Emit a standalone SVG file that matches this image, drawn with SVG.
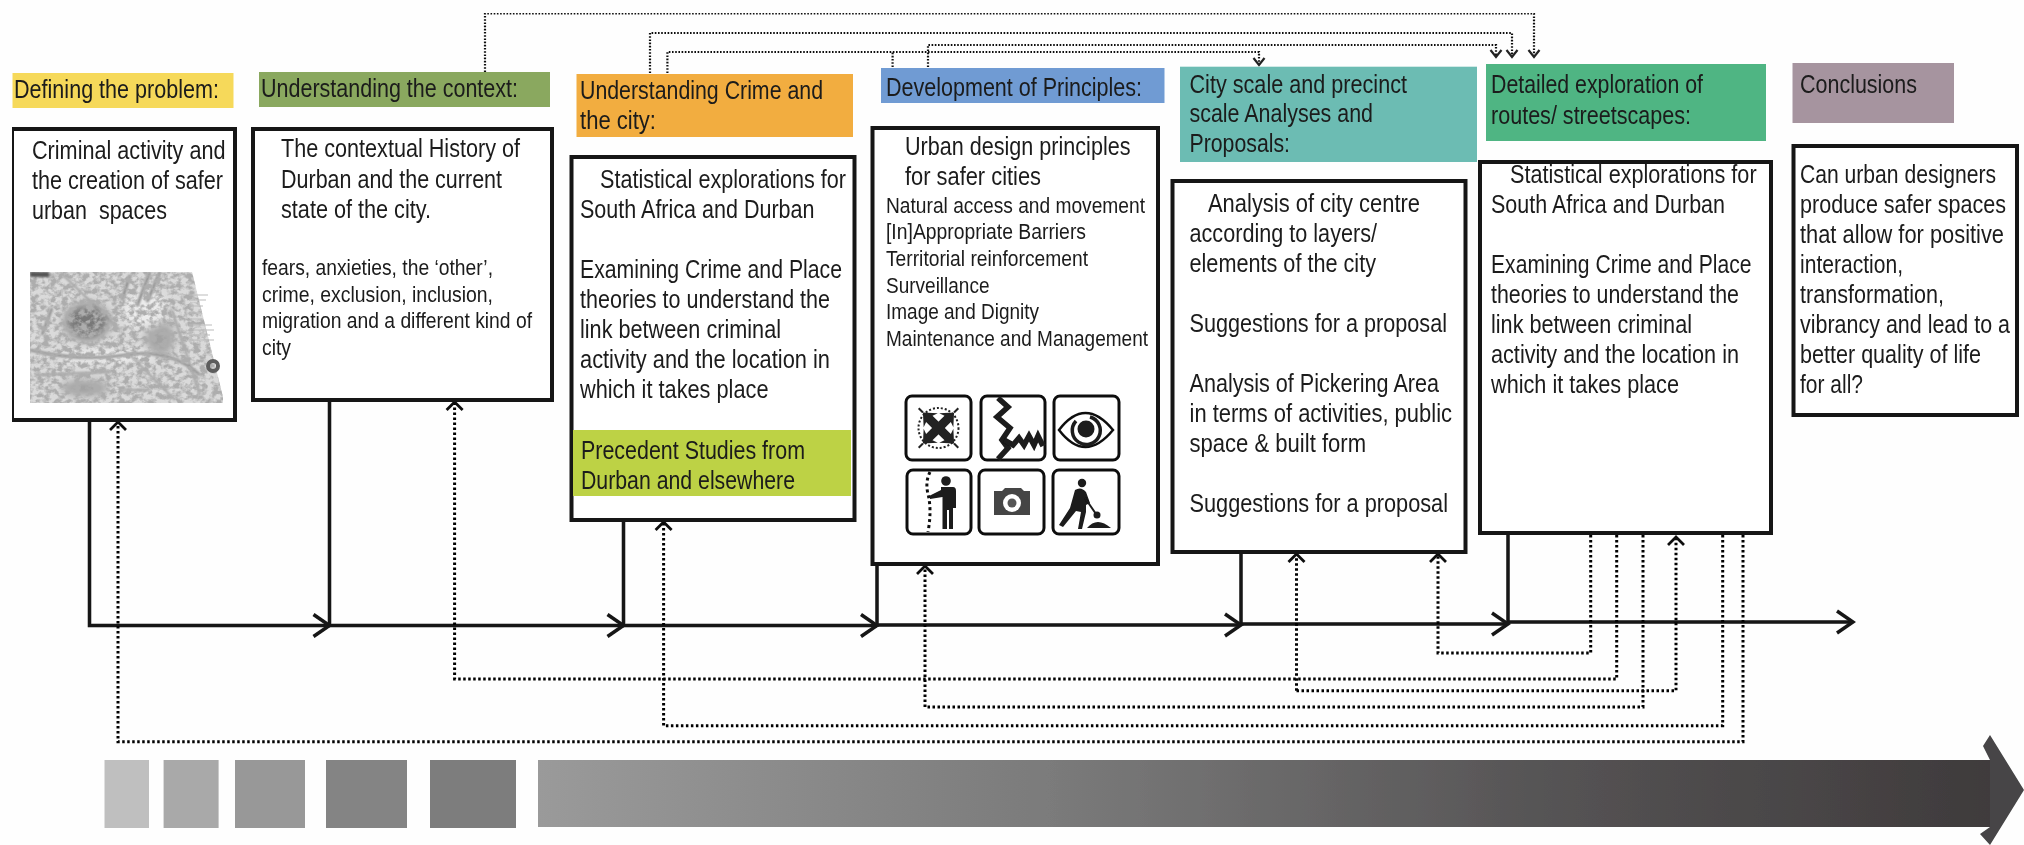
<svg xmlns="http://www.w3.org/2000/svg" width="2024" height="845" viewBox="0 0 2024 845">
<style>
text{font-family:"Liberation Sans",Arial,sans-serif;fill:#1a1a1a}
.h{font-size:26px}.t{font-size:26px}.s{font-size:22px}
.box{fill:#fff;stroke:#141414;stroke-width:4}
.main{fill:none;stroke:#141414;stroke-width:3.5;marker-end:url(#chev)}
.dot{fill:none;stroke:#000;stroke-width:3;stroke-dasharray:2.5 2.5;marker-end:url(#up)}
.top{fill:none;stroke:#111;stroke-width:2.2;stroke-dasharray:1.6 1.6;marker-end:url(#dn)}
.topn{fill:none;stroke:#111;stroke-width:2.2;stroke-dasharray:1.6 1.6}
.ic{fill:#fff;stroke:#111;stroke-width:3}
.k{fill:#1a1a1a}
.l{fill:none;stroke:#1a1a1a}
</style>
<defs>
<marker id="chev" markerUnits="userSpaceOnUse" viewBox="-18 -13 21 26" refX="0" refY="0" markerWidth="21" markerHeight="26" orient="auto"><path d="M-16-11L0 0L-16 11" fill="none" stroke="#141414" stroke-width="3.5"/></marker>
<marker id="up" markerUnits="userSpaceOnUse" viewBox="-10 -10 12 20" refX="0" refY="0" markerWidth="12" markerHeight="20" orient="auto"><path d="M-8-8L0 0L-8 8" fill="none" stroke="#111" stroke-width="2.8"/></marker>
<marker id="dn" markerUnits="userSpaceOnUse" viewBox="-9 -8 11 16" refX="0" refY="0" markerWidth="11" markerHeight="16" orient="auto"><path d="M-7-5.5L0 0L-7 5.5" fill="none" stroke="#222" stroke-width="2.2"/></marker>
<linearGradient id="bar" x1="538" x2="1990" y1="0" y2="0" gradientUnits="userSpaceOnUse"><stop offset="0" stop-color="#9a9a9a"/><stop offset=".35" stop-color="#7b7b7b"/><stop offset=".7" stop-color="#555354"/><stop offset="1" stop-color="#3f3b3c"/></linearGradient>
<filter id="tex" x="0" y="0" width="100%" height="100%"><feTurbulence type="fractalNoise" baseFrequency=".16 .19" numOctaves="3" seed="11"/><feColorMatrix values="0 0 0 0 .42  0 0 0 0 .42  0 0 0 0 .42  3.6 0 0 0 -1.35"/><feComposite in2="SourceAlpha" operator="in"/><feGaussianBlur stdDeviation=".5"/></filter>
<filter id="soft" x="-30%" y="-30%" width="160%" height="160%"><feGaussianBlur stdDeviation="5"/></filter>
<filter id="soft1" x="-30%" y="-30%" width="160%" height="160%"><feGaussianBlur stdDeviation="1"/></filter>
<filter id="scan" x="0" y="0" width="100%" height="100%"><feGaussianBlur stdDeviation=".45"/></filter>
<clipPath id="mapclip"><path d="M30 272H192L223 397V403H30Z"/></clipPath>
<path id="ar" d="M0-4.500H13L11-10L22 0L11 10L13 4.500H0Z M22-1H28V1H22Z" fill="#222"/>
</defs>
<rect width="2024" height="845" fill="#fefefe"/>
<g filter="url(#scan)">

<g id="connectors">
<g id="timeline">
<path class="main" d="M89.500 420V625.500H329.500"/>
<path class="main" d="M329.500 400V625.500H623.500"/>
<path class="main" d="M623.500 520V625.500H877"/>
<path class="main" d="M877 564V625H1241"/>
<path class="main" d="M1241 552V624H1508"/>
<path class="main" d="M1508 533V622H1853"/>
</g>
<g id="feedback">
<path class="dot" d="M1743 535V741.700H118V422"/>
<path class="dot" d="M1722.700 535V725.700H663.600V522"/>
<path class="dot" d="M1643 535V707H925V566"/>
<path class="dot" d="M1616.700 535V679H454.600V402"/>
<path class="dot" d="M1296.500 690.700H1676V537"/>
<path class="dot" d="M1296.500 690.700V554"/>
<path class="dot" d="M1590.700 535V653H1438V554"/>
</g>
<g id="forward">
<path class="top" d="M485 72V13.500H1534V57"/>
<path class="top" d="M650 73V33H1512V57"/>
<path class="top" d="M928 67V45H1496V57"/>
<path class="top" d="M667.400 73V52H1259V65"/>
<path class="topn" d="M892.600 67V52"/>
</g>
</g>

<g id="n-defining">
<rect x="12.500" y="73" width="221" height="35" fill="#f6d95a"/>
<text class="h" x="14" y="98" textLength="205" lengthAdjust="spacingAndGlyphs">Defining the problem:</text>
</g>
<g id="n-activity">
<rect class="box" x="12" y="129" width="223" height="291"/>
<text class="t" x="32" y="159" textLength="193.500" lengthAdjust="spacingAndGlyphs">Criminal activity and</text>
<text class="t" x="32" y="189" textLength="191" lengthAdjust="spacingAndGlyphs">the creation of safer</text>
<text class="t" x="32" y="219" textLength="135" lengthAdjust="spacingAndGlyphs" xml:space="preserve">urban  spaces</text>
<g clip-path="url(#mapclip)">
<rect x="30" y="272" width="195" height="131" fill="#dadada"/>
<g filter="url(#soft)">
<ellipse cx="87" cy="322" rx="22" ry="18" fill="#787878"/>
<ellipse cx="160" cy="338" rx="14" ry="18" fill="#a2a2a2"/>
<ellipse cx="85" cy="388" rx="24" ry="7" fill="#9a9a9a"/>
<ellipse cx="110" cy="356" rx="50" ry="5" fill="#f4f4f4"/>
<ellipse cx="145" cy="310" rx="22" ry="18" fill="#ececec"/>
</g>
<g fill="none" stroke="#8a8a8a" filter="url(#soft1)">
<path stroke-width="2.500" d="M52 308L42 335M30 350Q80 362 125 355T200 375"/>
<path stroke-width="3" d="M150 272L137 306M160 272L147 302M130 275L122 300"/>
<path stroke-width="1.500" d="M60 272L120 330M172 310L200 395M35 375L110 372M130 355L175 400M120 390H150"/>
</g>
<rect x="30" y="272" width="195" height="131" fill="#000" filter="url(#tex)"/>
<rect x="30" y="272" width="19" height="5" fill="#555" filter="url(#soft1)"/>
</g>
<path stroke="#bbb" stroke-width="1.200" d="M189 295H208M189 300H206M189 306H203M190 313H200M190 319H203M189 325H212M188 330H214M189 335H210M189 340H214"/>
<circle cx="213" cy="366" r="5" fill="none" stroke="#5d5d5d" stroke-width="4"/>
</g>

<g id="n-context-h">
<rect x="259" y="72" width="291" height="35" fill="#8aa85f"/>
<text class="h" x="261" y="97" textLength="257" lengthAdjust="spacingAndGlyphs">Understanding the context:</text>
</g>
<g id="n-context">
<rect class="box" x="253" y="129" width="299" height="271"/>
<text class="t" x="281" y="157" textLength="239" lengthAdjust="spacingAndGlyphs">The contextual History of</text>
<text class="t" x="281" y="188" textLength="221" lengthAdjust="spacingAndGlyphs">Durban and the current</text>
<text class="t" x="281" y="218" textLength="150" lengthAdjust="spacingAndGlyphs">state of the city.</text>
<text class="s" x="262" y="275" textLength="231" lengthAdjust="spacingAndGlyphs">fears, anxieties, the ‘other’,</text>
<text class="s" x="262" y="302" textLength="231" lengthAdjust="spacingAndGlyphs">crime, exclusion, inclusion,</text>
<text class="s" x="262" y="328" textLength="270" lengthAdjust="spacingAndGlyphs">migration and a different kind of</text>
<text class="s" x="262" y="355" textLength="29" lengthAdjust="spacingAndGlyphs">city</text>
</g>

<g id="n-crime-h">
<rect x="576.500" y="74" width="276.500" height="63" fill="#f2ad3f"/>
<text class="h" x="580" y="99" textLength="243" lengthAdjust="spacingAndGlyphs">Understanding Crime and</text>
<text class="h" x="580" y="129" textLength="76" lengthAdjust="spacingAndGlyphs">the city:</text>
</g>
<g id="n-crime">
<rect class="box" x="571.500" y="157" width="283" height="363"/>
<rect x="573" y="430" width="278" height="66" fill="#bdd244"/>
<text class="t" x="600" y="188" textLength="246" lengthAdjust="spacingAndGlyphs">Statistical explorations for</text>
<text class="t" x="580" y="218" textLength="234.500" lengthAdjust="spacingAndGlyphs">South Africa and Durban</text>
<text class="t" x="580" y="278" textLength="262" lengthAdjust="spacingAndGlyphs">Examining Crime and Place</text>
<text class="t" x="580" y="308" textLength="250" lengthAdjust="spacingAndGlyphs">theories to understand the</text>
<text class="t" x="580" y="338" textLength="201" lengthAdjust="spacingAndGlyphs">link between criminal</text>
<text class="t" x="580" y="368" textLength="250" lengthAdjust="spacingAndGlyphs">activity and the location in</text>
<text class="t" x="580" y="398" textLength="188.500" lengthAdjust="spacingAndGlyphs">which it takes place</text>
<text class="t" x="581" y="459" textLength="224" lengthAdjust="spacingAndGlyphs">Precedent Studies from</text>
<text class="t" x="581" y="489" textLength="214" lengthAdjust="spacingAndGlyphs">Durban and elsewhere</text>
</g>

<g id="n-principles-h">
<rect x="881" y="68" width="283.500" height="35" fill="#6f9bd3"/>
<text class="h" x="886" y="95.500" textLength="256" lengthAdjust="spacingAndGlyphs">Development of Principles:</text>
</g>
<g id="n-principles">
<rect class="box" x="872.500" y="128" width="285.500" height="436"/>
<text class="t" x="905" y="155" textLength="225.500" lengthAdjust="spacingAndGlyphs">Urban design principles</text>
<text class="t" x="905" y="185" textLength="136" lengthAdjust="spacingAndGlyphs">for safer cities</text>
<text class="s" x="886" y="212.700" textLength="259" lengthAdjust="spacingAndGlyphs">Natural access and movement</text>
<text class="s" x="886" y="239" textLength="200" lengthAdjust="spacingAndGlyphs">[In]Appropriate Barriers</text>
<text class="s" x="886" y="266" textLength="202" lengthAdjust="spacingAndGlyphs">Territorial reinforcement</text>
<text class="s" x="886" y="292.700" textLength="103.500" lengthAdjust="spacingAndGlyphs">Surveillance</text>
<text class="s" x="886" y="319" textLength="153" lengthAdjust="spacingAndGlyphs">Image and Dignity</text>
<text class="s" x="886" y="346" textLength="262" lengthAdjust="spacingAndGlyphs">Maintenance and Management</text>
<g id="icon-access">
<rect class="ic" x="906" y="396" width="65" height="64" rx="6"/>
<circle cx="938.500" cy="428" r="20" fill="none" stroke="#222" stroke-width="2" stroke-dasharray="2 2"/>
<use href="#ar" transform="translate(938.500 428) rotate(45)"/>
<use href="#ar" transform="translate(938.500 428) rotate(135)"/>
<use href="#ar" transform="translate(938.500 428) rotate(225)"/>
<use href="#ar" transform="translate(938.500 428) rotate(315)"/>
</g>
<g id="icon-barrier">
<rect class="ic" x="981" y="396" width="64" height="64" rx="6"/>
<path class="l" stroke-width="5.500" d="M998 398L1008 407L997 417L1010 428L1002 440L1008 448L998 459"/>
<path class="l" stroke-width="5.500" d="M1004 440L1013 445L1019 438L1024 445L1029 436L1034 445L1038 436L1043 446"/>
</g>
<g id="icon-eye">
<rect class="ic" x="1054" y="396" width="65" height="64" rx="6"/>
<path d="M1059 430Q1085 396 1113 430Q1085 464 1059 430Z" fill="#fff" stroke="#111" stroke-width="2.500"/>
<path class="l" stroke-width="3.500" d="M1076 421A14 14 0 1 0 1090 417"/>
<circle class="k" cx="1086" cy="429" r="8.500"/>
</g>
<g id="icon-surveillance">
<rect class="ic" x="907" y="470" width="64" height="64" rx="6"/>
<path d="M930 472Q925 482 928 494Q932 510 928 532" fill="none" stroke="#111" stroke-width="3" stroke-dasharray="3 3"/>
<circle class="k" cx="946" cy="481" r="4.800"/>
<path class="k" d="M941 487H953Q956 487 956 491V508H953V529H949V510H947V529H942.500V497L930 499V495.500L941 490Z"/>
</g>
<g id="icon-camera">
<rect class="ic" x="979" y="470" width="65" height="64" rx="6"/>
<path fill="#444" d="M994 491H1002L1005 488H1021L1024 491H1030V515H994Z"/>
<circle cx="1012" cy="503" r="9" fill="#fff"/>
<circle cx="1012" cy="503" r="4.500" fill="#555"/>
</g>
<g id="icon-maintenance">
<rect class="ic" x="1053" y="470" width="66" height="64" rx="6"/>
<circle class="k" cx="1082" cy="483" r="4.200"/>
<path class="k" d="M1075 490Q1081 486 1086 492L1090 503L1086 505L1086 512L1082 529H1078L1081 512L1076 511L1063 527L1059 525L1070 508Z"/>
<path class="l" stroke-width="2" d="M1085 498L1096 514"/>
<circle class="k" cx="1097" cy="515" r="3.500"/>
<path class="k" d="M1087 528Q1097 516 1111 528Z"/>
</g>
</g>

<g id="n-city-h">
<rect x="1180" y="66.700" width="297" height="95.300" fill="#6cbcb3"/>
<text class="h" x="1189.500" y="92.700" textLength="217.500" lengthAdjust="spacingAndGlyphs">City scale and precinct</text>
<text class="h" x="1189.500" y="122" textLength="183.500" lengthAdjust="spacingAndGlyphs">scale Analyses and</text>
<text class="h" x="1189.500" y="152" textLength="100.500" lengthAdjust="spacingAndGlyphs">Proposals:</text>
</g>
<g id="n-city">
<rect class="box" x="1172.500" y="181" width="293" height="371"/>
<text class="t" x="1208" y="212" textLength="212" lengthAdjust="spacingAndGlyphs">Analysis of city centre</text>
<text class="t" x="1189.500" y="242" textLength="187.500" lengthAdjust="spacingAndGlyphs">according to layers/</text>
<text class="t" x="1189.500" y="272" textLength="186.500" lengthAdjust="spacingAndGlyphs">elements of the city</text>
<text class="t" x="1189.500" y="332" textLength="257.500" lengthAdjust="spacingAndGlyphs">Suggestions for a proposal</text>
<text class="t" x="1189.500" y="392" textLength="249.500" lengthAdjust="spacingAndGlyphs">Analysis of Pickering Area</text>
<text class="t" x="1189.500" y="422" textLength="262.500" lengthAdjust="spacingAndGlyphs">in terms of activities, public</text>
<text class="t" x="1189.500" y="452" textLength="176.500" lengthAdjust="spacingAndGlyphs">space &amp; built form</text>
<text class="t" x="1189.500" y="512" textLength="258.500" lengthAdjust="spacingAndGlyphs">Suggestions for a proposal</text>
</g>

<g id="n-routes-h">
<rect x="1486" y="64" width="280" height="77" fill="#4fb583"/>
<text class="h" x="1491" y="93" textLength="212" lengthAdjust="spacingAndGlyphs">Detailed exploration of</text>
<text class="h" x="1491" y="124" textLength="200" lengthAdjust="spacingAndGlyphs">routes/ streetscapes:</text>
</g>
<g id="n-routes">
<rect class="box" x="1480" y="162" width="291" height="371"/>
<text class="t" x="1510" y="183" textLength="246.600" lengthAdjust="spacingAndGlyphs">Statistical explorations for</text>
<text class="t" x="1491" y="213" textLength="234" lengthAdjust="spacingAndGlyphs">South Africa and Durban</text>
<text class="t" x="1491" y="273" textLength="260.500" lengthAdjust="spacingAndGlyphs">Examining Crime and Place</text>
<text class="t" x="1491" y="303" textLength="248" lengthAdjust="spacingAndGlyphs">theories to understand the</text>
<text class="t" x="1491" y="333" textLength="201" lengthAdjust="spacingAndGlyphs">link between criminal</text>
<text class="t" x="1491" y="363" textLength="248" lengthAdjust="spacingAndGlyphs">activity and the location in</text>
<text class="t" x="1491" y="393" textLength="188" lengthAdjust="spacingAndGlyphs">which it takes place</text>
</g>

<g id="n-conclusions-h">
<rect x="1792.500" y="63" width="161.500" height="60" fill="#a6949f"/>
<text class="h" x="1800" y="93" textLength="117" lengthAdjust="spacingAndGlyphs">Conclusions</text>
</g>
<g id="n-conclusions">
<rect class="box" x="1793.500" y="146" width="223.500" height="269"/>
<text class="t" transform="translate(1800 183) scale(.8 1)" textLength="245" lengthAdjust="spacingAndGlyphs">Can urban designers</text>
<text class="t" transform="translate(1800 213) scale(.8 1)" textLength="257.500" lengthAdjust="spacingAndGlyphs">produce safer spaces</text>
<text class="t" transform="translate(1800 243) scale(.8 1)" textLength="255" lengthAdjust="spacingAndGlyphs">that allow for positive</text>
<text class="t" transform="translate(1800 273) scale(.8 1)" textLength="128.750" lengthAdjust="spacingAndGlyphs">interaction,</text>
<text class="t" transform="translate(1800 303) scale(.8 1)" textLength="180" lengthAdjust="spacingAndGlyphs">transformation,</text>
<text class="t" transform="translate(1800 333) scale(.8 1)" textLength="262.500" lengthAdjust="spacingAndGlyphs">vibrancy and lead to a</text>
<text class="t" transform="translate(1800 363) scale(.8 1)" textLength="226.250" lengthAdjust="spacingAndGlyphs">better quality of life</text>
<text class="t" transform="translate(1800 393) scale(.8 1)" textLength="78.750" lengthAdjust="spacingAndGlyphs">for all?</text>
</g>

<g id="scale">
<rect x="104.500" y="760" width="44.500" height="68" fill="#bfbfbf"/>
<rect x="163.600" y="760" width="55" height="68" fill="#a9a9a9"/>
<rect x="235" y="760" width="70" height="68" fill="#989898"/>
<rect x="326" y="760" width="81" height="68" fill="#848484"/>
<rect x="430" y="760" width="86" height="68" fill="#7d7d7d"/>
<rect x="538" y="760" width="1452" height="67" fill="url(#bar)"/>
<path fill="#464546" d="M1983 746L1990 735L2024 790L1990 845L1980 834L1990 827V760Z"/>
</g>
</g>
</svg>
